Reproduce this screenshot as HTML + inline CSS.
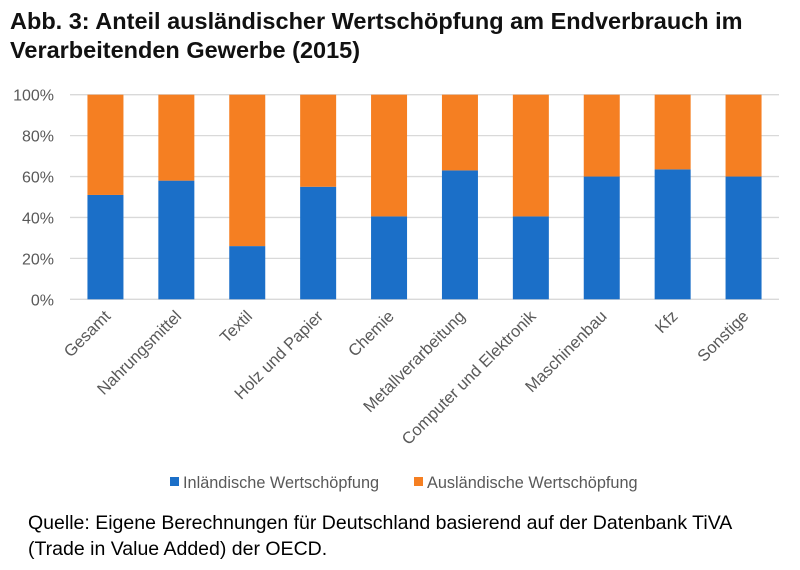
<!DOCTYPE html>
<html><head><meta charset="utf-8"><style>
body{margin:0;background:#fff;width:800px;height:570px;overflow:hidden;font-family:"Liberation Sans",sans-serif}
.title{position:absolute;left:10px;top:7px;font-size:23.5px;font-weight:bold;color:#111;line-height:29px;white-space:nowrap}
.src{position:absolute;left:28px;top:510px;font-size:19.5px;color:#000;line-height:26px;white-space:nowrap}
</style></head><body>
<div class="title">Abb. 3: Anteil ausländischer Wertschöpfung am Endverbrauch im<br>Verarbeitenden Gewerbe (2015)</div>
<svg id="chart" width="800" height="570" style="position:absolute;left:0;top:0"></svg>
<div class="src">Quelle: Eigene Berechnungen für Deutschland basierend auf der Datenbank TiVA<br>(Trade in Value Added) der OECD.</div>
<script>
const categories=["Gesamt","Nahrungsmittel","Textil","Holz und Papier","Chemie","Metallverarbeitung","Computer und Elektronik","Maschinenbau","Kfz","Sonstige"];
const domestic=[51,58,26,55,40.5,63,40.5,60,63.5,60];
const foreign=[49,42,74,45,59.5,37,59.5,40,36.5,40];
const ticks=[0,20,40,60,80,100];
const tickLabels=["0%","20%","40%","60%","80%","100%"];
const NS="http://www.w3.org/2000/svg";
const svg=document.getElementById('chart');
const x0=70,x1=779,yb=299.3,yt=94.7;
const step=(x1-x0)/categories.length,bw=36;
const y=v=>yb-(v/100)*(yb-yt);
const xc=i=>x0+step*(i+0.5);
function mk(t,a){const e=document.createElementNS(NS,t);for(const k in a)e.setAttribute(k,a[k]);svg.appendChild(e);return e;}
ticks.forEach((t,i)=>{
 const g=mk('line',{x1:x0,x2:x1,y1:y(t),y2:y(t),stroke:'#d9d9d9','stroke-width':1.3});
 
 
 const l=mk('text',{x:54,y:y(t)+6,'text-anchor':'end','font-size':16,fill:'#595959','font-family':'Liberation Sans, sans-serif'});
 l.textContent=tickLabels[i];
 
 
});
categories.forEach((c,i)=>{
 const cx=xc(i);
 const b=mk('rect',{x:cx-bw/2,y:y(domestic[i]),width:bw,height:yb-y(domestic[i]),fill:'#1b6fc8'});
 
 
 const o=mk('rect',{x:cx-bw/2,y:y(domestic[i]+foreign[i]),width:bw,height:y(domestic[i])-y(domestic[i]+foreign[i]),fill:'#f57f22'});
 
 
 const t=mk('text',{x:0,y:0,'text-anchor':'end','font-size':16.5,fill:'#595959','font-family':'Liberation Sans, sans-serif',transform:`translate(${cx+6},${yb+18}) rotate(-45)`});
 t.textContent=c;
 
 
});
const leg=[["Inländische Wertschöpfung","#1b6fc8",170],["Ausländische Wertschöpfung","#f57f22",414]];
leg.forEach(([n,c,lx])=>{
 const r=mk('rect',{x:lx,y:477,width:9,height:9,fill:c});
 
 
 const t=mk('text',{x:lx+13,y:488,'font-size':16.3,fill:'#595959','font-family':'Liberation Sans, sans-serif'});
 t.textContent=n;
 
 
});
</script>
</body></html>
